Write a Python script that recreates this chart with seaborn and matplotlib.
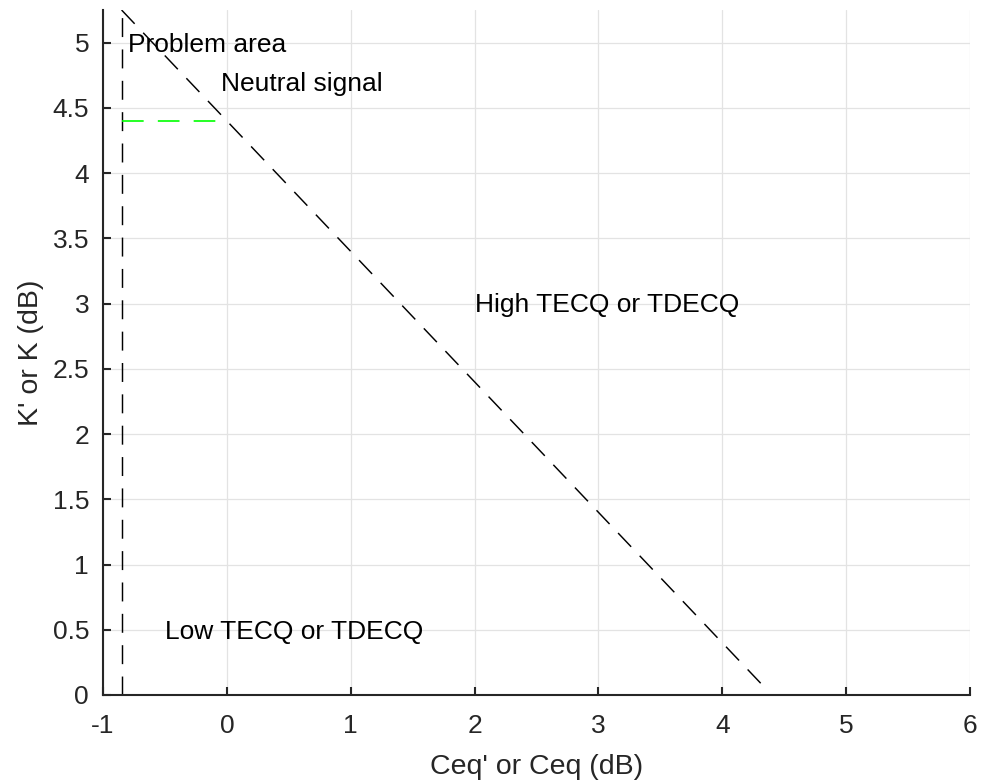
import matplotlib
matplotlib.use("Agg")
import matplotlib.pyplot as plt
import seaborn as sns
import pandas as pd
import numpy as np

# Data
boundary_x = [-0.85, -0.85]          # vertical dashed boundary (Ceq')
boundary_y = [0.0, 5.25]
diag_x = [-0.85, 4.33]               # K = 4.4 - Ceq
diag_y = [5.25, 0.07]
neutral_x = [-0.85, 0.0]             # green neutral level
neutral_y = [4.4, 4.4]
xticks = [-1, 0, 1, 2, 3, 4, 5, 6]
yticks = [0, 0.5, 1, 1.5, 2, 2.5, 3, 3.5, 4, 4.5, 5]
ytick_labels = ["0", "0.5", "1", "1.5", "2", "2.5", "3", "3.5", "4", "4.5", "5"]
annotations = [
    ("Problem area", -0.8, 4.98),
    ("Neutral signal", -0.05, 4.68),
    ("High TECQ or TDECQ", 2.0, 2.99),
    ("Low TECQ or TDECQ", -0.5, 0.48),
]

sns.set_theme(style="white")
plt.rcParams['font.family'] = ['Liberation Sans', 'DejaVu Sans']

fig = plt.figure(figsize=(9.82, 7.83), dpi=100)
ax = fig.add_axes([0.1049, 0.1124, 0.9878 - 0.1049, 0.9872 - 0.1124])

dash = (0, (13, 8.5))
sns.lineplot(x=boundary_x, y=boundary_y, ax=ax, color="black", lw=1.05,
             linestyle=dash, sort=False, estimator=None)
sns.lineplot(x=diag_x, y=diag_y, ax=ax, color="black", lw=1.05,
             linestyle=dash, sort=False, estimator=None)
sns.lineplot(x=neutral_x, y=neutral_y, ax=ax, color="#00ff00", lw=1.2,
             linestyle=dash, sort=False, estimator=None)

for txt, x, y in annotations:
    ax.text(x, y, txt, fontsize=19, color="black", va="center", ha="left")

ax.set_xlim(-1, 6)
ax.set_ylim(0, 5.25)
ax.set_xticks(xticks)
ax.set_xticklabels([str(t) for t in xticks])
ax.set_yticks(yticks)
ax.set_yticklabels(ytick_labels)
ax.grid(True, color="#e3e3e3", lw=0.9)
ax.set_axisbelow(True)

for s in ["top", "right"]:
    ax.spines[s].set_visible(False)
for s in ["left", "bottom"]:
    ax.spines[s].set_color("#262626")
    ax.spines[s].set_linewidth(1.5)

ax.tick_params(axis="both", direction="in", length=6, width=1.5,
               color="#262626", labelsize=19, labelcolor="#262626",
               bottom=True, left=True)
ax.tick_params(axis="x", pad=14)
ax.tick_params(axis="y", pad=10)
ax.set_xlabel("Ceq' or Ceq (dB)", fontsize=20.5, color="#262626", labelpad=11)
ax.set_ylabel("K' or K (dB)", fontsize=20.5, color="#262626", labelpad=6)

fig.savefig("out.png", dpi=100, facecolor="white")
